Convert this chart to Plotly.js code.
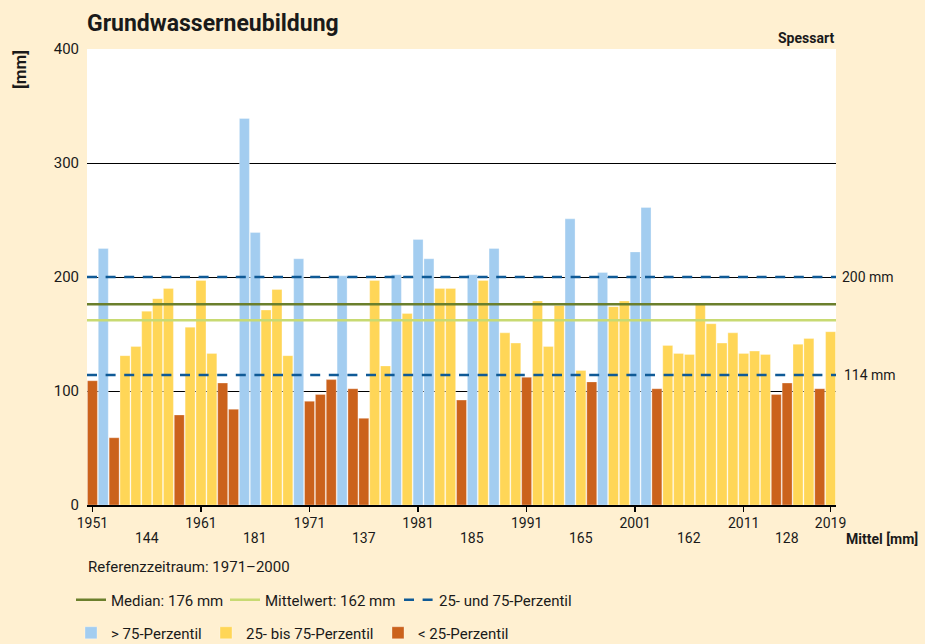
<!DOCTYPE html>
<html><head><meta charset="utf-8">
<script src="https://cdn.plot.ly/plotly-3.0.1.min.js"></script>
<style>html,body{margin:0;padding:0;background:#FFF0D1;} #chart{width:925px;height:644px;}</style>
</head><body><div id="chart"></div>
<script>
const years = [1951,1952,1953,1954,1955,1956,1957,1958,1959,1960,
  1961,1962,1963,1964,1965,1966,1967,1968,1969,1970,
  1971,1972,1973,1974,1975,1976,1977,1978,1979,1980,
  1981,1982,1983,1984,1985,1986,1987,1988,1989,1990,
  1991,1992,1993,1994,1995,1996,1997,1998,1999,2000,
  2001,2002,2003,2004,2005,2006,2007,2008,2009,2010,
  2011,2012,2013,2014,2015,2016,2017,2018,2019];
const values = [109,225,59,131,139,170,181,190,79,156,
  197,133,107,84,339,239,171,189,131,216,
  91,97,110,201,102,76,197,122,202,168,
  233,216,190,190,92,202,197,225,151,142,
  112,179,139,175,251,118,108,204,174,179,
  222,261,102,140,133,132,176,159,142,151,
  133,135,132,97,107,141,146,102,152];
const tickYears = [1951,1961,1971,1981,1991,2001,2011,2019];
const decadeLabelYears = [1956,1966,1976,1986,1996,2006,2015];
const decadeMeans = [144,181,137,185,165,162,128];
const medianValue = 176;
const meanValue = 162;
const p25 = 114;
const p75 = 200;

const FONT = 'Roboto, "Liberation Sans", sans-serif';
const TXT = '#1a1a1a';
const C_HI = '#A3CDF0', C_MID = '#FFD657', C_LO = '#CB621C';

const hi = {x:[], y:[]}, mid = {x:[], y:[]}, lo = {x:[], y:[]};
years.forEach((yr, i) => {
  const v = values[i];
  const t = v > p75 ? hi : (v < p25 ? lo : mid);
  t.x.push(yr); t.y.push(v);
});
const x0 = years[0] - 0.5, x1 = years[years.length - 1] + 0.5;

const barLine = {color:'rgba(255,255,255,0.6)', width:0.5};
const traces = [
  {type:'bar', x:hi.x, y:hi.y, name:'> 75-Perzentil', marker:{color:C_HI, line:barLine}, legend:'legend4'},
  {type:'bar', x:mid.x, y:mid.y, name:'25- bis 75-Perzentil', marker:{color:C_MID, line:barLine}, legend:'legend5'},
  {type:'bar', x:lo.x, y:lo.y, name:'< 25-Perzentil', marker:{color:C_LO, line:barLine}, legend:'legend6'},
  {type:'scatter', mode:'lines', x:[x0, x1], y:[meanValue, meanValue], name:'Mittelwert: ' + meanValue + ' mm',
    line:{color:'#C8DA72', width:2.5}, legend:'legend2'},
  {type:'scatter', mode:'lines', x:[x0, x1], y:[medianValue, medianValue], name:'Median: ' + medianValue + ' mm',
    line:{color:'#6B7F2C', width:2.5}, legend:'legend'},
  {type:'scatter', mode:'lines', x:[x0, x1, null, x0, x1], y:[p75, p75, null, p25, p25], name:'25- und 75-Perzentil',
    line:{color:'#0F5A96', width:2.5, dash:'10px,8.6px'}, legend:'legend3'}
];

const W = 925, H = 644;
const L = 87, R = 836, T = 49, B = 505;
const PW = R - L, PH = B - T;
const px = v => (v - L) / PW;
const py = v => (B - v) / PH;
const cx = v => v / W;
const cy = v => 1 - v / H;

function leg(xItem, yCenter) {
  return {xref:'container', yref:'container', x: cx(xItem), y: cy(yCenter), xanchor:'left', yanchor:'middle', orientation:'h',
    bgcolor:'rgba(0,0,0,0)', borderwidth:0, font:{family:FONT, size:15, color:TXT},
    itemclick:false, itemdoubleclick:false};
}

const annotations = [];
decadeLabelYears.forEach((yr, i) => {
  annotations.push({x: yr, xref:'x', y: py(538), yref:'paper', text: String(decadeMeans[i]),
    showarrow:false, xanchor:'center', yanchor:'middle', font:{family:FONT, size:14, color:TXT}});
});
annotations.push(
  {x:1, xref:'paper', y:py(539), yref:'paper', xanchor:'left', yanchor:'middle', xshift:8, showarrow:false,
   text:'<b>Mittel [mm]</b>', font:{family:FONT, size:14, color:TXT}},
  {x:1, xref:'paper', y:1, yref:'paper', xanchor:'right', yanchor:'bottom', yshift:1, showarrow:false,
   text:'<b>Spessart</b>', font:{family:FONT, size:14, color:TXT}},
  {x:1, xref:'paper', y:p75, yref:'y', xanchor:'left', yanchor:'middle', xshift:4, showarrow:false,
   text:p75 + ' mm', font:{family:FONT, size:14, color:TXT}},
  {x:1, xref:'paper', y:p25, yref:'y', xanchor:'left', yanchor:'middle', xshift:6, showarrow:false,
   text:p25 + ' mm', font:{family:FONT, size:14, color:TXT}},
  {x:px(20), xref:'paper', y:py(70), yref:'paper', xanchor:'center', yanchor:'middle', textangle:-90, showarrow:false,
   text:'<b>[mm]</b>', font:{family:FONT, size:17, color:TXT}},
  {x:px(86), xref:'paper', y:py(567), yref:'paper', xanchor:'left', yanchor:'middle', showarrow:false,
   text:'Referenzzeitraum: 1971–2000', font:{family:FONT, size:15, color:TXT}}
);

const layout = {
  width:W, height:H,
  margin:{l:L, r:W - R, t:T, b:H - B, pad:0, autoexpand:false},
  paper_bgcolor:'#FFF0D1', plot_bgcolor:'#FFFFFF',
  barmode:'overlay', bargap:0.08,
  font:{family:FONT, size:14, color:TXT},
  title:{text:'<b>Grundwasserneubildung</b>', xref:'paper', x:0, xanchor:'left', yref:'container', y:1 - 23/644, yanchor:'middle',
    font:{family:FONT, size:23, color:TXT}},
  xaxis:{range:[x0, x1], tickvals:tickYears, ticktext:tickYears.map(String), ticks:'outside', ticklen:5, tickwidth:1.5,
    tickcolor:'#000', showline:true, linecolor:'#000', linewidth:1.5, showgrid:false, zeroline:false,
    tickfont:{family:FONT, size:14, color:TXT}, fixedrange:true},
  yaxis:{range:[0, 400], tickvals:[0,100,200,300,400], showgrid:true, gridcolor:'#000', gridwidth:1, zeroline:false,
    showline:false, ticks:'', ticklabelstandoff:7, tickfont:{family:FONT, size:15, color:TXT}, fixedrange:true},
  legend: leg(71, 600),
  legend2: leg(225, 600),
  legend3: leg(399, 600),
  legend4: leg(71, 633),
  legend5: leg(206, 633),
  legend6: leg(378, 633),
  annotations: annotations,
  showlegend:true
};

Plotly.newPlot('chart', traces, layout, {displayModeBar:false, staticPlot:true});
</script>
</body></html>
